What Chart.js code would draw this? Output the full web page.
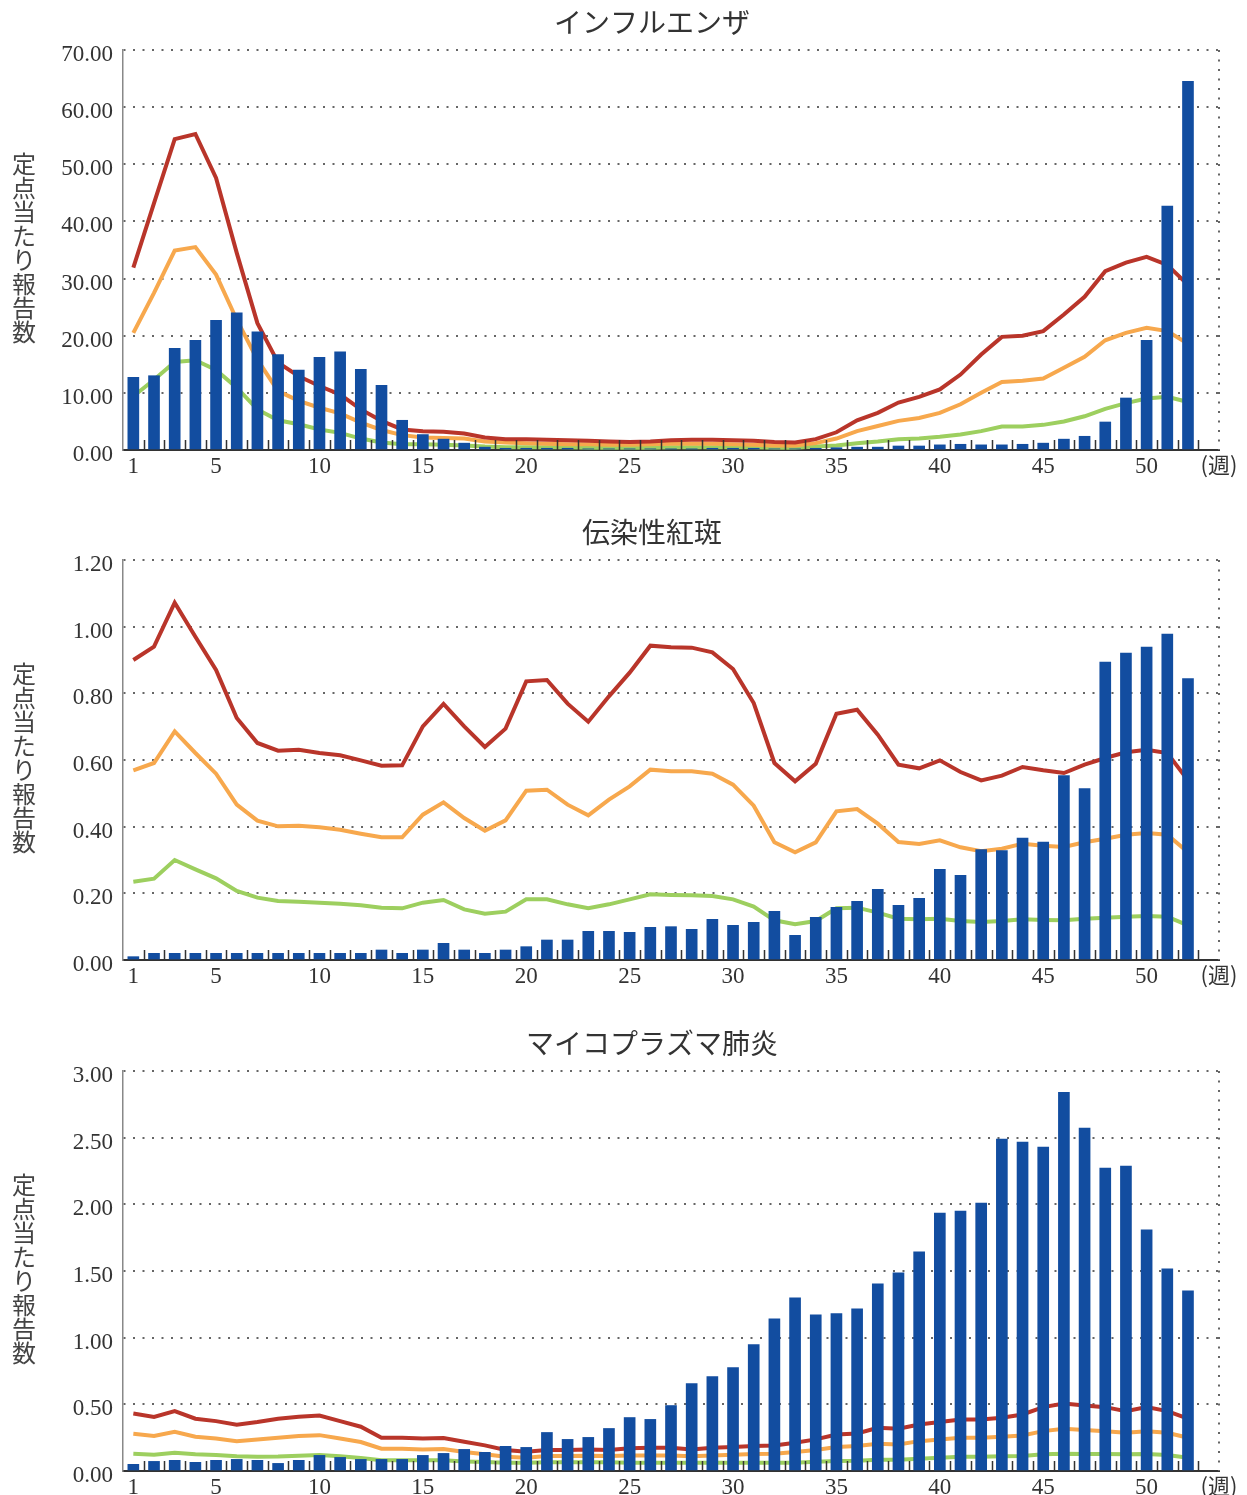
<!DOCTYPE html>
<html>
<head>
<meta charset="utf-8">
<script src="https://cdn.jsdelivr.net/npm/chart.js@4.4.1/dist/chart.umd.min.js"></script>
<style>
html, body { margin: 0; padding: 0; background: #fff; overflow: hidden; width: 1247px; height: 1495px; }
.box { position: absolute; left: 0; width: 1247px; height: 480px; }
</style>
</head>
<body>
<div class="box" style="top:0px"><canvas id="c1" width="1247" height="480"></canvas></div>
<div class="box" style="top:510px"><canvas id="c2" width="1247" height="480"></canvas></div>
<div class="box" style="top:1021px"><canvas id="c3" width="1247" height="480"></canvas></div>
<script>
// week labels (the last slot is left empty, as in the original)
var weeks = ['1','2','3','4','5','6','7','8','9','10','11','12','13','14','15','16','17','18','19','20',
  '21','22','23','24','25','26','27','28','29','30','31','32','33','34','35','36','37','38','39','40',
  '41','42','43','44','45','46','47','48','49','50','51','52',''];
var yLabel = '定点当たり報告数';

// インフルエンザ
var fluBar = [12.7,13.0,17.8,19.2,22.7,24.0,20.7,16.7,14.0,16.2, 17.2,14.1,11.3,5.2,2.7,1.9,1.2,0.5,0.3,0.3,
  0.3,0.3,0.2,0.2,0.2,0.2,0.2,0.2,0.3,0.3, 0.3,0.2,0.2,0.3,0.4,0.5,0.5,0.7,0.7,0.9,
  1.0,0.9,0.9,1.0,1.2,1.9,2.4,4.9,9.1,19.2, 42.7,64.5];
var fluRed = [31.9,43.2,54.4,55.3,47.6,34.5,22.2,15.3,12.9,11.2, 9.7,7.1,5.1,3.6,3.3,3.2,2.9,2.2,1.9,1.9,
  1.8,1.7,1.6,1.5,1.4,1.5,1.7,1.8,1.8,1.7, 1.6,1.4,1.3,1.9,3.1,5.2,6.5,8.3,9.3,10.6,
  13.2,16.7,19.8,20.0,20.8,23.7,26.8,31.3,32.8,33.8, 32.4,28.9];
var fluOrange = [20.5,27.5,34.9,35.5,30.7,22.8,15.8,10.3,8.6,7.4, 6.4,4.8,3.5,2.6,2.2,2.1,2.0,1.5,1.3,1.2,
  1.1,1.0,1.0,0.9,0.9,1.0,1.1,1.1,1.1,1.0, 0.9,0.8,0.8,1.2,2.0,3.3,4.2,5.1,5.6,6.5,
  8.0,10.0,11.9,12.1,12.5,14.4,16.3,19.2,20.5,21.4, 20.8,18.6];
var fluGreen = [9.4,12.3,15.4,15.7,14.0,10.9,7.1,5.2,4.5,3.6, 3.0,2.0,1.3,1.0,1.0,0.9,0.8,0.6,0.5,0.5,
  0.5,0.5,0.4,0.4,0.4,0.4,0.5,0.5,0.5,0.5, 0.5,0.4,0.4,0.6,0.8,1.2,1.5,1.9,2.0,2.3,
  2.7,3.3,4.1,4.1,4.4,5.0,5.9,7.2,8.2,9.0, 9.3,8.4];

// 伝染性紅斑
var eryBar = [0.01,0.02,0.02,0.02,0.02,0.02,0.02,0.02,0.02,0.02, 0.02,0.02,0.03,0.02,0.03,0.05,0.03,0.02,0.03,0.04,
  0.06,0.06,0.086,0.086,0.083,0.098,0.10,0.092,0.122,0.104, 0.113,0.146,0.074,0.128,0.158,0.176,0.212,0.164,0.185,0.272,
  0.254,0.331,0.328,0.366,0.354,0.553,0.514,0.894,0.921,0.939, 0.978,0.844];
var eryRed = [0.900,0.940,1.072,0.970,0.870,0.726,0.651,0.628,0.631,0.621, 0.614,0.599,0.583,0.584,0.701,0.768,0.701,0.639,0.694,0.836,
  0.840,0.769,0.715,0.791,0.862,0.943,0.938,0.937,0.923,0.873, 0.771,0.591,0.536,0.589,0.739,0.751,0.676,0.586,0.575,0.599,
  0.564,0.539,0.553,0.579,0.569,0.561,0.586,0.606,0.623,0.631, 0.621,0.539];
var eryOrange = [0.569,0.591,0.686,0.621,0.559,0.466,0.418,0.401,0.403,0.398, 0.391,0.379,0.368,0.368,0.436,0.473,0.426,0.388,0.419,0.508,
  0.511,0.466,0.434,0.481,0.521,0.571,0.566,0.566,0.559,0.526, 0.463,0.353,0.323,0.353,0.446,0.453,0.409,0.354,0.348,0.359,
  0.338,0.326,0.334,0.349,0.343,0.339,0.353,0.364,0.376,0.381, 0.376,0.323];
var eryGreen = [0.235,0.244,0.300,0.272,0.245,0.207,0.187,0.177,0.175,0.172, 0.169,0.164,0.157,0.155,0.172,0.180,0.152,0.139,0.145,0.182,
  0.182,0.167,0.155,0.167,0.182,0.197,0.195,0.194,0.192,0.182, 0.160,0.119,0.107,0.117,0.155,0.157,0.142,0.124,0.122,0.124,
  0.117,0.114,0.117,0.122,0.120,0.119,0.124,0.127,0.130,0.132, 0.130,0.104];

// マイコプラズマ肺炎
var mycoBar = [0.05,0.072,0.08,0.065,0.08,0.087,0.08,0.057,0.08,0.117, 0.102,0.087,0.087,0.087,0.117,0.132,0.162,0.14,0.185,0.177,
  0.289,0.237,0.252,0.319,0.401,0.387,0.491,0.656,0.708,0.776, 0.948,1.142,1.299,1.172,1.180,1.217,1.404,1.486,1.643,1.935,
  1.950,2.010,2.489,2.466,2.429,2.840,2.571,2.272,2.287,1.808, 1.516,1.352];
var mycoRed = [0.431,0.406,0.449,0.392,0.374,0.347,0.367,0.392,0.406,0.416, 0.374,0.332,0.249,0.249,0.244,0.247,0.219,0.192,0.157,0.145,
  0.157,0.157,0.162,0.157,0.170,0.175,0.175,0.162,0.175,0.180, 0.187,0.192,0.212,0.237,0.274,0.282,0.324,0.317,0.349,0.367,
  0.387,0.387,0.399,0.424,0.479,0.506,0.491,0.479,0.449,0.479, 0.449,0.392];
var mycoOrange = [0.279,0.262,0.294,0.257,0.244,0.224,0.237,0.249,0.262,0.269, 0.244,0.217,0.167,0.167,0.162,0.165,0.142,0.125,0.107,0.100,
  0.112,0.112,0.114,0.112,0.117,0.117,0.117,0.110,0.117,0.122, 0.127,0.130,0.142,0.157,0.180,0.187,0.204,0.199,0.224,0.237,
  0.249,0.249,0.257,0.267,0.299,0.317,0.307,0.299,0.287,0.299, 0.287,0.249];
var mycoGreen = [0.130,0.122,0.137,0.125,0.120,0.110,0.107,0.108,0.115,0.120, 0.110,0.097,0.080,0.080,0.080,0.080,0.072,0.067,0.062,0.062,
  0.065,0.065,0.065,0.065,0.062,0.062,0.062,0.062,0.062,0.062, 0.062,0.062,0.062,0.070,0.075,0.077,0.085,0.085,0.092,0.100,
  0.107,0.107,0.110,0.112,0.125,0.130,0.128,0.128,0.125,0.128, 0.120,0.100];

var BAR = '#124da0', RED = '#b9352a', ORANGE = '#f7a84d', GREEN = '#9dcf5f';
var serif = '"Liberation Serif", "DejaVu Serif", serif';
var jp = '"Noto Sans CJK JP", "Noto Sans", sans-serif';

// titles, vertical axis label, inner tick marks, dotted right edge
var decor = {
  id: 'decor',
  beforeDatasetsDraw: function(chart) {
    var a = chart.chartArea, ctx = chart.ctx;
    ctx.save();
    ctx.strokeStyle = '#666';
    ctx.lineWidth = 2;
    ctx.setLineDash([2, 7.5]);
    ctx.beginPath();
    ctx.moveTo(a.right, a.top);
    ctx.lineTo(a.right, a.bottom);
    ctx.stroke();
    ctx.restore();
  },
  afterDatasetsDraw: function(chart, args, opts) {
    var a = chart.chartArea, ctx = chart.ctx, x = chart.scales.x;
    ctx.save();
    ctx.strokeStyle = '#333';
    ctx.lineWidth = 1.5;
    ctx.beginPath();
    for (var i = 0; i < weeks.length - 1; i++) {
      var px = Math.round((x.getPixelForValue(i) + x.getPixelForValue(i + 1)) / 2) + 0.5;
      ctx.moveTo(px, a.bottom);
      ctx.lineTo(px, a.bottom - 10);
    }
    ctx.stroke();

    ctx.fillStyle = '#333';
    ctx.textAlign = 'center';
    ctx.textBaseline = 'middle';
    ctx.font = '28px ' + jp;
    ctx.fillText(opts.title, 652, a.top - 28);

    ctx.fillStyle = '#444';
    ctx.font = '24px ' + jp;
    var cy = (a.top + a.bottom) / 2 - 2;
    for (var j = 0; j < yLabel.length; j++) {
      ctx.fillText(yLabel[j], 24, cy + (j - (yLabel.length - 1) / 2) * 24);
    }

    ctx.fillStyle = '#333';
    ctx.font = '22px ' + jp;
    ctx.fillText('(週)', a.right, a.bottom + 15);
    ctx.restore();
  }
};

function makeChart(id, title, yMax, step, bars, red, orange, green) {
  var line = function(label, data, color, order) {
    return { type: 'line', label: label, data: data, borderColor: color, backgroundColor: color,
      borderWidth: 4, pointRadius: 0, tension: 0, order: order };
  };
  return new Chart(document.getElementById(id), {
    type: 'bar',
    data: {
      labels: weeks,
      datasets: [
        { type: 'bar', label: '定点当たり報告数', data: bars, backgroundColor: BAR, barThickness: 11, order: 0 },
        line('red', red, RED, 1),
        line('orange', orange, ORANGE, 2),
        line('green', green, GREEN, 3)
      ]
    },
    options: {
      responsive: false,
      animation: false,
      layout: { padding: { top: 50, right: 28, bottom: 0, left: 0 } },
      plugins: {
        legend: { display: false },
        tooltip: { enabled: false },
        decor: { title: title }
      },
      scales: {
        x: {
          grid: { display: false, drawTicks: false },
          border: { color: '#333', width: 2 },
          ticks: {
            autoSkip: false, maxRotation: 0, padding: 3, color: '#333',
            font: { family: serif, size: 23 },
            callback: function(v, i) {
              var w = weeks[i];
              return (w === '1' || (w !== '' && +w % 5 === 0)) ? w : '';
            }
          },
          afterFit: function(s) { s.height = 30; }
        },
        y: {
          min: 0, max: yMax,
          grid: {
            drawTicks: false, lineWidth: 2,
            color: function(c) { return c.tick && c.tick.value === 0 ? 'rgba(0,0,0,0)' : '#666'; }
          },
          border: { color: '#888', width: 1.5, dash: [2, 7.5] },
          ticks: {
            stepSize: step, padding: 10, color: '#333', labelOffset: 5,
            font: { family: serif, size: 23 },
            callback: function(v) { return v.toFixed(2); }
          },
          afterFit: function(s) { s.width = 123; }
        }
      }
    },
    plugins: [decor]
  });
}

makeChart('c1', 'インフルエンザ', 70, 10, fluBar, fluRed, fluOrange, fluGreen);
makeChart('c2', '伝染性紅斑', 1.2, 0.2, eryBar, eryRed, eryOrange, eryGreen);
makeChart('c3', 'マイコプラズマ肺炎', 3, 0.5, mycoBar, mycoRed, mycoOrange, mycoGreen);
</script>
</body>
</html>
